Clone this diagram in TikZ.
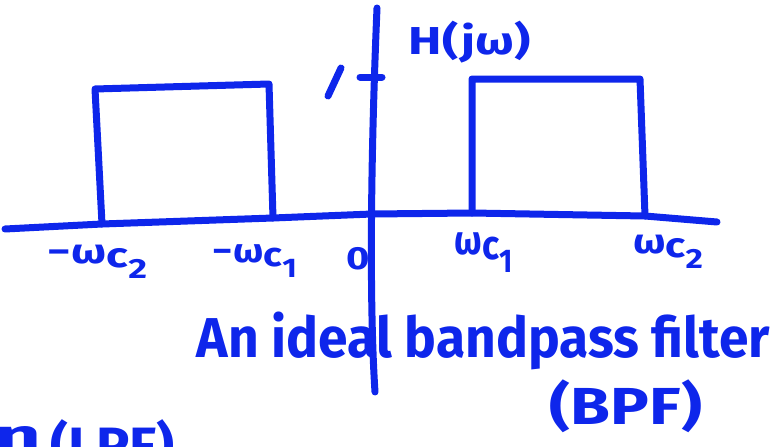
\documentclass[tikz,border=0pt]{standalone}
\usepackage{fontspec}
\setmainfont{Fira Sans}
\definecolor{marker}{RGB}{14,38,235}
\newcommand{\hwbox}[3]{\resizebox*{#1pt}{#2pt}{#3}}
\newcommand{\wsub}[1]{ω\raisebox{-0.12em}{c}\raisebox{-0.42em}{\footnotesize #1}}
\begin{document}
\begin{tikzpicture}[x=1pt,y=-1pt,
  stroke/.style={draw=marker,line width=7pt,line cap=round,line join=round},
  hand/.style={text=marker,font=\bfseries,inner sep=0pt,outer sep=0pt,anchor=center}]
\useasboundingbox (0,0) rectangle (779,447);
% horizontal axis
\coordinate (xl) at (5,229);
\coordinate (lb1) at (102,224);
\coordinate (lb2) at (273,218);
\coordinate (o) at (372,214);
\coordinate (rb1) at (472,213);
\coordinate (rb2) at (645,216);
\coordinate (xr) at (717,222);
\draw[stroke] (xl) -- (lb1) -- (lb2) -- (o) -- (rb1) -- (rb2) -- (xr);
% vertical axis
\coordinate (yt) at (377,8);
\coordinate (yb) at (375,392);
\draw[stroke] (yt) .. controls (371,150) and (369,300) .. (yb);
% left box
\coordinate (lt1) at (95,89);
\coordinate (lt2) at (269,84);
\draw[stroke] (lb1) -- (lt1) -- (lt2) -- (lb2);
% right box
\coordinate (rt1) at (472,79);
\coordinate (rt2) at (640,79);
\draw[stroke] (rb1) -- (rt1) -- (rt2) -- (rb2);
% tick at 1
\coordinate (tk1) at (360,77);
\coordinate (tk2) at (382,77);
\draw[stroke] (tk1) -- (tk2);
\coordinate (one1) at (328,96);
\coordinate (one2) at (341,68);
\draw[stroke] (one1) -- (one2);
% labels
\node[hand] (H) at (470,42.5) {\hwbox{122}{42}{H(jω)}};
\node[hand] (mwc2) at (97.5,261.5) {\hwbox{99}{33}{−\wsub{2}}};
\node[hand] (mwc1) at (255,261) {\hwbox{84}{32}{−\wsub{1}}};
\node[hand] (zero) at (358,259) {\scalebox{1.25}[1]{\fontsize{32}{32}\selectfont 0}};
\node[hand] (wc1) at (484,252.5) {\hwbox{58}{39}{\wsub{1}}};
\node[hand] (wc2) at (668,251.5) {\hwbox{70}{33}{\wsub{2}}};
\node[hand] (title) at (483.5,341) {\hwbox{573}{58}{An ideal bandpass filter}};
\node[hand] (bpf) at (626,406.5) {\hwbox{152}{53}{(BPF)}};
\begin{scope}
\clip (0,0) rectangle (779,447);
\node[hand] (lpf) at (112.5,446) {\hwbox{125}{52}{(LPF)}};
\node[hand,anchor=south west] (lpfn) at (-4,452) {\hwbox{46}{26}{n}};
\end{scope}
\end{tikzpicture}
\end{document}
